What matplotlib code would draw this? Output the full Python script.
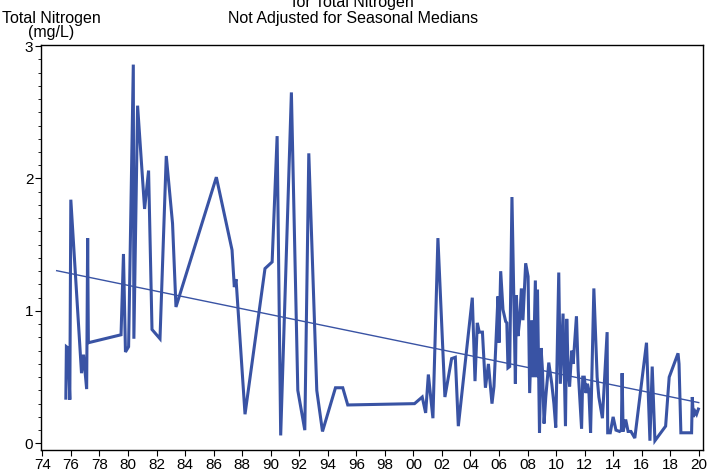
import matplotlib
matplotlib.use("Agg")
import matplotlib.pyplot as plt
from matplotlib.ticker import MultipleLocator, FixedLocator

plt.rcParams['font.family'] = ['Liberation Sans', 'DejaVu Sans']

years = [1975.64, 1975.68, 1975.80, 1975.92, 1975.99, 1976.74, 1976.88, 1977.10, 1977.17, 1977.22,
         1979.51, 1979.68, 1979.82, 1980.04, 1980.37, 1980.41, 1980.67, 1981.16, 1981.44, 1981.68,
         1982.24, 1982.68, 1983.12, 1983.36, 1986.19, 1987.29, 1987.45, 1987.57, 1988.20, 1989.60,
         1990.10, 1990.45, 1990.70, 1991.45, 1991.90, 1992.39, 1992.67, 1993.23, 1993.63, 1994.54,
         1995.05, 1995.40, 2000.08, 2000.62, 2000.86, 2001.05, 2001.37, 2001.72, 2002.21, 2002.68,
         2002.94, 2003.15, 2004.13, 2004.32, 2004.48, 2004.62, 2004.84, 2005.05, 2005.26, 2005.51,
         2005.65, 2005.93, 2006.00, 2006.12, 2006.28, 2006.47, 2006.55, 2006.63, 2006.75, 2006.91,
         2007.15, 2007.22, 2007.33, 2007.45, 2007.57, 2007.68, 2007.87, 2008.04, 2008.15, 2008.30,
         2008.40, 2008.55, 2008.62, 2008.70, 2008.84, 2008.95, 2009.05, 2009.16, 2009.28, 2009.49,
         2009.70, 2009.85, 2009.98, 2010.19, 2010.30, 2010.49, 2010.66, 2010.75, 2010.85, 2010.95,
         2011.10, 2011.20, 2011.43, 2011.55, 2011.79, 2011.87, 2011.98, 2012.10, 2012.20, 2012.30,
         2012.42, 2012.65, 2012.88, 2013.00, 2013.25, 2013.58, 2013.62, 2013.80, 2014.00, 2014.20,
         2014.45, 2014.58, 2014.63, 2014.70, 2014.88, 2015.05, 2015.25, 2015.52, 2016.34, 2016.58,
         2016.74, 2016.93, 2017.68, 2017.93, 2018.55, 2018.62, 2018.75, 2019.50, 2019.55, 2019.62,
         2019.75, 2019.85, 2020.01]

nitrogen = [0.33, 0.73, 0.72, 0.33, 1.84, 0.53, 0.67, 0.41, 1.55, 0.76,
            0.82, 1.43, 0.69, 0.73, 2.86, 0.79, 2.55, 1.77, 2.06, 0.86,
            0.79, 2.17, 1.66, 1.03, 2.01, 1.46, 1.18, 1.24, 0.22, 1.32,
            1.37, 2.32, 0.06, 2.65, 0.40, 0.10, 2.19, 0.40, 0.09, 0.42,
            0.42, 0.29, 0.30, 0.35, 0.23, 0.52, 0.19, 1.55, 0.35, 0.64,
            0.65, 0.13, 1.10, 0.47, 0.91, 0.84, 0.84, 0.42, 0.60, 0.30,
            0.43, 1.11, 0.76, 1.30, 1.01, 0.92, 0.91, 0.57, 0.58, 1.86,
            0.45, 1.12, 0.81, 0.93, 1.17, 0.93, 1.36, 1.26, 0.38, 0.93,
            0.50, 1.23, 0.50, 1.16, 0.08, 0.72, 0.55, 0.15, 0.35, 0.61,
            0.45, 0.30, 0.12, 1.29, 0.45, 0.98, 0.13, 0.94, 0.55, 0.43,
            0.70, 0.60, 0.96, 0.55, 0.11, 0.50, 0.50, 0.38, 0.45, 0.40,
            0.08, 1.17, 0.50, 0.35, 0.19, 0.84, 0.08, 0.08, 0.20, 0.10,
            0.09, 0.10, 0.53, 0.09, 0.18, 0.09, 0.09, 0.04, 0.76, 0.02,
            0.58, 0.02, 0.13, 0.50, 0.68, 0.60, 0.08, 0.08, 0.35, 0.20,
            0.24, 0.22, 0.27]

trend_years = [1975.0, 2020.0]
trend_values = [1.304, 0.308]

x_ticks = list(range(1974, 2021, 2))
x_labels = [f"{y % 100:02d}" for y in x_ticks]
y_ticks = [0, 1, 2, 3]

blue = "#3953a4"

fig = plt.figure(figsize=(7.10, 4.72), dpi=100)
ax = fig.add_axes([41/710, (472-450)/472, (703-41)/710, (450-45)/472])

ax.plot(years, nitrogen, color=blue, lw=2.2, solid_joinstyle='miter', solid_capstyle='butt')
ax.plot(trend_years, trend_values, color=blue, lw=1.0)

ax.set_xlim(1973.9, 2020.3)
ax.set_ylim(-0.05, 3.008)
ax.xaxis.set_major_locator(FixedLocator(x_ticks))
ax.set_xticklabels(x_labels)
ax.yaxis.set_major_locator(FixedLocator(y_ticks))
ax.yaxis.set_minor_locator(MultipleLocator(0.1))
ax.tick_params(axis='both', which='major', direction='out', length=4, width=0.8,
               labelsize=11, colors='black', pad=1.5)
ax.tick_params(axis='y', which='minor', direction='out', length=2.5, width=0.6)
for s in ax.spines.values():
    s.set_linewidth(1.0)

fig.text(353/710, (472-7)/472, "for Total Nitrogen", ha='center', va='baseline', fontsize=11.5)
fig.text(353/710, (472-23)/472, "Not Adjusted for Seasonal Medians", ha='center', va='baseline', fontsize=11.5)
fig.text(2/710, (472-23)/472, "Total Nitrogen", ha='left', va='baseline', fontsize=11.5)
fig.text(51/710, (472-37)/472, "(mg/L)", ha='center', va='baseline', fontsize=11.5)

fig.savefig("out.png", dpi=100)
